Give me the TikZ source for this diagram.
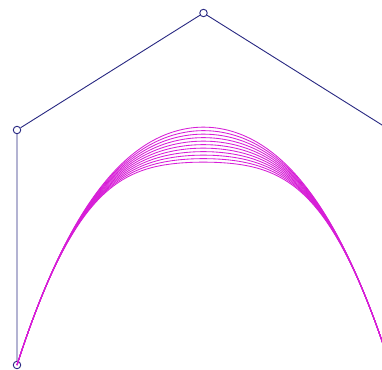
\documentclass[tikz,border=0pt]{standalone}
\begin{document}
\begin{tikzpicture}[x=1pt,y=-1pt,
  poly/.style={draw={rgb,255:red,40;green,40;blue,130},line width=0.9pt},
  ctrl/.style={circle,draw={rgb,255:red,40;green,40;blue,130},line width=0.9pt,minimum size=7.5pt,inner sep=0pt},
  curve/.style={draw={rgb,255:red,215;green,30;blue,215},line width=0.85pt}]
\useasboundingbox (0,0) rectangle (382,369);
\clip (0,0) rectangle (382,369);
\fill[white] (0,0) rectangle (382,369);
\node[ctrl] (p0) at (17,365) {};
\node[ctrl] (p1) at (17,130) {};
\node[ctrl] (p2) at (203.5,13) {};
\node[ctrl] (p3) at (390,130) {};
\node[ctrl] (p4) at (390,365) {};
\draw[poly] (p0) -- (p1) -- (p2) -- (p3) -- (p4);
\foreach \i in {0,...,10} {
  \pgfmathsetmacro\dd{3.5*\i}
  \draw[curve] plot[variable=\t,domain=0:1,samples=121,smooth]
    ({203.5 - 186.5*(1-\t)^4 - 86.5*4*\t*(1-\t)^3 + 86.5*4*\t^3*(1-\t) + 186.5*\t^4},
     {365 - 310.75*(4*\t*(1-\t)^3 + 4*\t^3*(1-\t)) - 220*6*\t^2*(1-\t)^2 + \dd*(4*\t*(1-\t))^3.3});
}
\end{tikzpicture}
\end{document}
